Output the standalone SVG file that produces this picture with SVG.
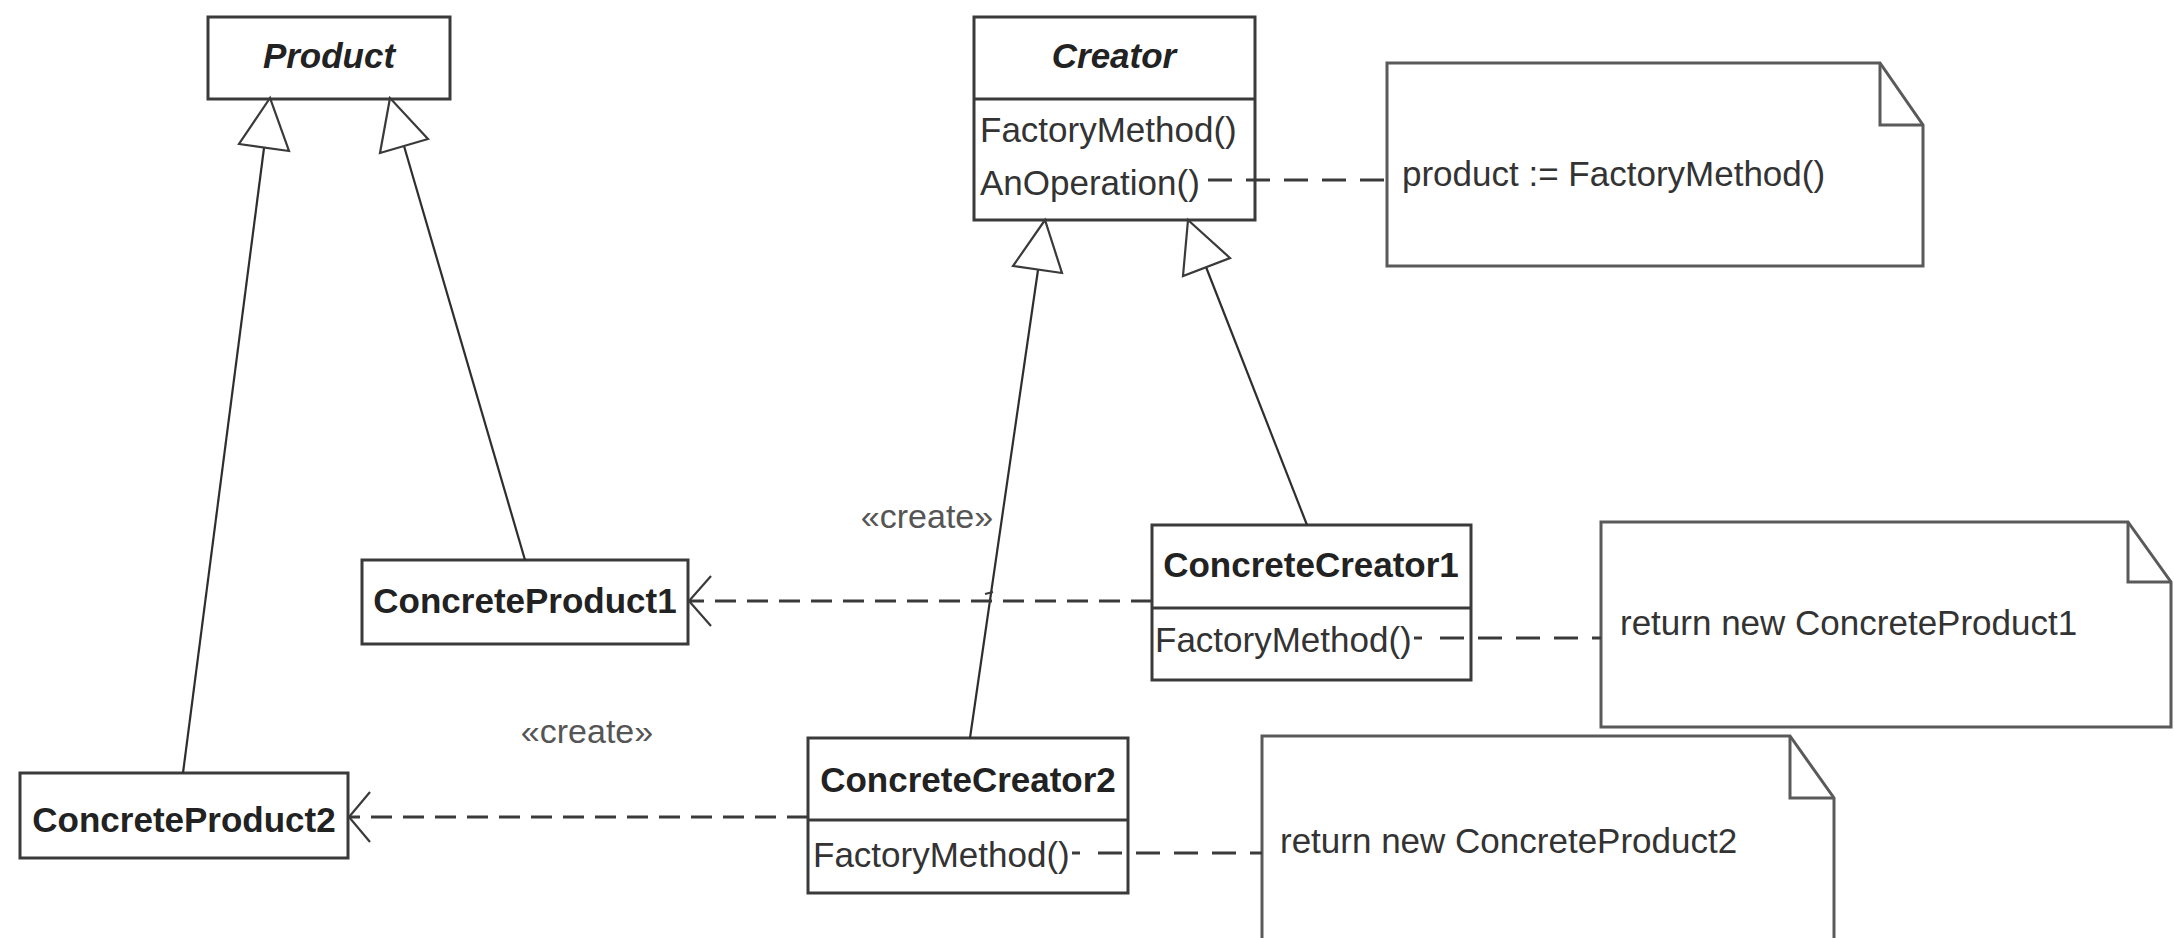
<svg xmlns="http://www.w3.org/2000/svg" width="2174" height="938" viewBox="0 0 2174 938">
  <style>
    .box { fill: #ffffff; stroke: #3a3a3a; stroke-width: 3; }
    .sep { stroke: #3a3a3a; stroke-width: 3; }
    .note { fill: #ffffff; stroke: #5a5a5a; stroke-width: 3; stroke-linejoin: miter; }
    .fold { fill: none; stroke: #5a5a5a; stroke-width: 3; }
    .title { font-family: "Liberation Sans", Arial, sans-serif; font-size: 35px; font-weight: bold; fill: #222; text-anchor: middle; }
    .abstract { font-style: italic; }
    .op { font-family: "Liberation Sans", Arial, sans-serif; font-size: 35px; fill: #333; }
    .stereo { font-family: "Liberation Sans", Arial, sans-serif; font-size: 34px; fill: #555; text-anchor: middle; }
    .gen { fill: none; stroke: #2e2e2e; stroke-width: 2.2; }
    .tri { fill: #ffffff; stroke: #3a3a3a; stroke-width: 2.2; stroke-linejoin: miter; }
    .dep { fill: none; stroke: #3a3a3a; stroke-width: 3; stroke-dasharray: 21 11; }
    .head { fill: none; stroke: #3a3a3a; stroke-width: 2.2; }
    .link { fill: none; stroke: #3a3a3a; stroke-width: 3; stroke-dasharray: 24 14; }
    .stub { fill: none; stroke: #3a3a3a; stroke-width: 3; }
  </style>
  <rect width="2174" height="938" fill="#ffffff"/>

  <!-- abstract product -->
  <g id="product">
    <rect class="box" x="208" y="17" width="242" height="82"/>
    <text class="title abstract" x="329" y="68">Product</text>
  </g>

  <!-- abstract creator -->
  <g id="creator">
    <rect class="box" x="974" y="17" width="281" height="203"/>
    <line class="sep" x1="974" y1="99" x2="1255" y2="99"/>
    <text class="title abstract" x="1114" y="68">Creator</text>
    <text class="op" x="980" y="142">FactoryMethod()</text>
    <text class="op" x="980" y="195">AnOperation()</text>
  </g>

  <g id="note-creator">
    <path class="note" d="M1387,63 H1880 L1923,125 V266 H1387 Z"/>
    <path class="fold" d="M1880,63 V125 H1923"/>
    <text class="op" x="1402" y="186">product := FactoryMethod()</text>
  </g>

  <g id="concrete-product1">
    <rect class="box" x="362" y="560" width="326" height="84"/>
    <text class="title" x="525" y="613">ConcreteProduct1</text>
  </g>

  <g id="concrete-product2">
    <rect class="box" x="20" y="773" width="328" height="85"/>
    <text class="title" x="184" y="832">ConcreteProduct2</text>
  </g>

  <g id="concrete-creator1">
    <rect class="box" x="1152" y="525" width="319" height="155"/>
    <line class="sep" x1="1152" y1="608" x2="1471" y2="608"/>
    <text class="title" x="1311" y="577">ConcreteCreator1</text>
    <text class="op" x="1155" y="652">FactoryMethod()</text>
  </g>

  <g id="note-creator1">
    <path class="note" d="M1601,522 H2128 L2171,582 V727 H1601 Z"/>
    <path class="fold" d="M2128,522 V582 H2171"/>
    <text class="op" x="1620" y="635">return new ConcreteProduct1</text>
  </g>

  <g id="concrete-creator2">
    <rect class="box" x="808" y="738" width="320" height="155"/>
    <line class="sep" x1="808" y1="820" x2="1128" y2="820"/>
    <text class="title" x="968" y="792">ConcreteCreator2</text>
    <text class="op" x="813" y="867">FactoryMethod()</text>
  </g>

  <g id="note-creator2">
    <path class="note" d="M1262,736 H1790 L1834,798 V950 H1262 Z"/>
    <path class="fold" d="M1790,736 V798 H1834"/>
    <text class="op" x="1280" y="853">return new ConcreteProduct2</text>
  </g>

  <!-- connectors -->
  <g id="connectors">
    <!-- generalisations to Product -->
    <line class="gen" x1="264" y1="148" x2="183" y2="773"/>
    <polygon class="tri" points="270,98 239,144 289,151"/>
    <line class="gen" x1="404" y1="146" x2="525" y2="560"/>
    <polygon class="tri" points="390,98 380,153 428,139"/>
    <!-- generalisations to Creator -->
    <line class="gen" x1="1038" y1="270" x2="970" y2="738"/>
    <polygon class="tri" points="1045,220 1013,266 1062,273"/>
    <line class="gen" x1="1206" y1="267" x2="1307" y2="525"/>
    <polygon class="tri" points="1188,220 1183,276 1230,258"/>
    <!-- small jump where the generalisation crosses the create line -->
    <path class="head" d="M993,592 L985,594"/>

    <!-- create dependencies -->
    <line class="dep" x1="1152" y1="601" x2="690" y2="601"/>
    <path class="head" d="M711,576 L689,601 L711,626"/>
    <text class="stereo" x="927" y="528">«create»</text>
    <line class="dep" x1="808" y1="817" x2="350" y2="817"/>
    <path class="head" d="M370,792 L349,817 L370,842"/>
    <text class="stereo" x="587" y="743">«create»</text>

    <!-- note attachments -->
    <line class="link" x1="1208" y1="180" x2="1387" y2="180"/>
    <line class="stub" x1="1414" y1="638" x2="1422" y2="638"/>
    <line class="link" x1="1440" y1="638" x2="1601" y2="638"/>
    <line class="stub" x1="1072" y1="853" x2="1080" y2="853"/>
    <line class="link" x1="1098" y1="853" x2="1262" y2="853"/>
  </g>
</svg>
